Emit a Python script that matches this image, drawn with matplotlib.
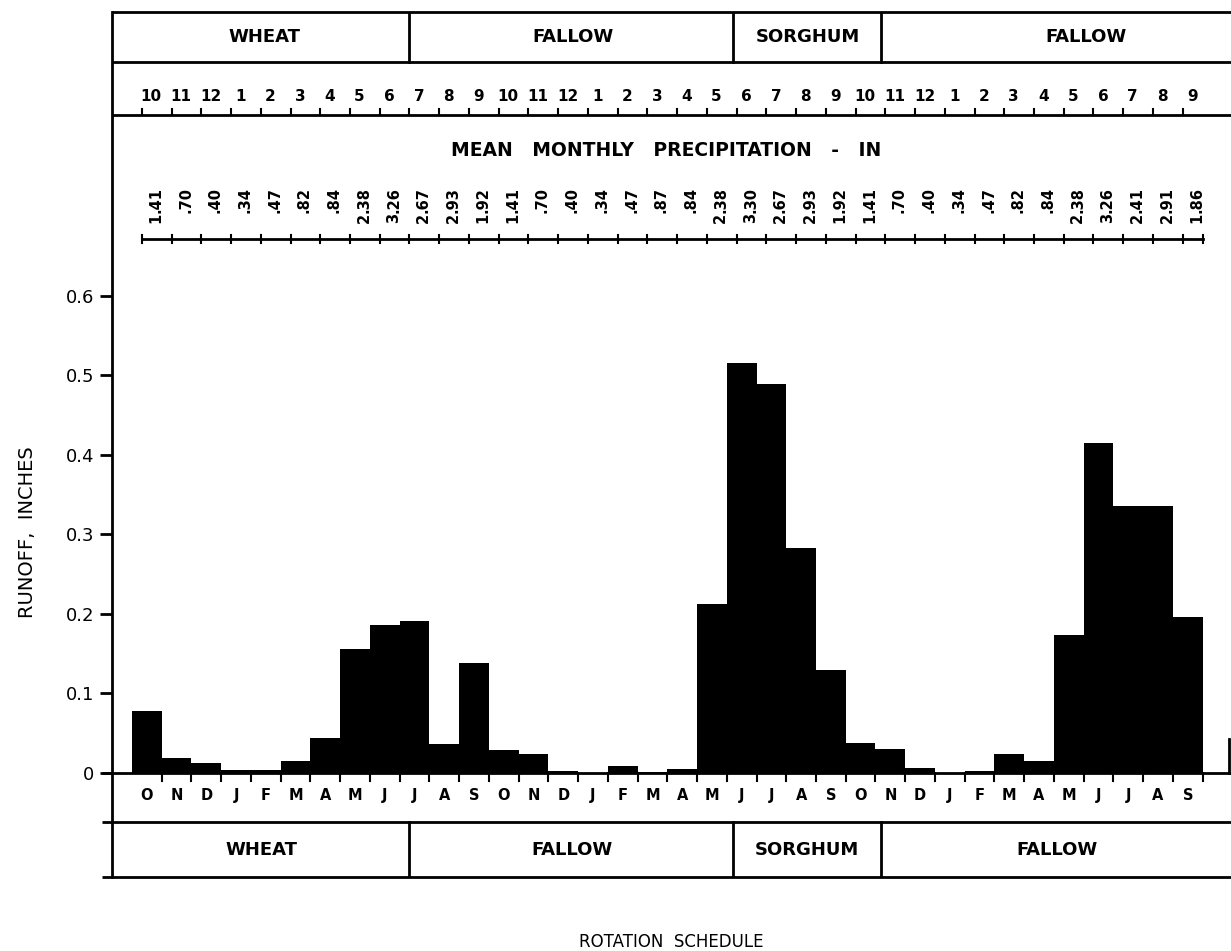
import matplotlib
matplotlib.use("Agg")
import matplotlib.pyplot as plt
import numpy as np

# Three rotation years, October through September
month_letters = list("ONDJFMAMJJAS") * 3
month_numbers = [10, 11, 12, 1, 2, 3, 4, 5, 6, 7, 8, 9] * 3

# Mean monthly runoff, inches
runoff = [0.078, 0.018, 0.012, 0.003, 0.003, 0.015, 0.044, 0.156, 0.186, 0.191, 0.036, 0.138,
          0.029, 0.023, 0.002, 0.000, 0.008, 0.001, 0.005, 0.212, 0.516, 0.489, 0.283, 0.129,
          0.037, 0.030, 0.006, 0.000, 0.002, 0.023, 0.015, 0.173, 0.415, 0.335, 0.335, 0.196]

# Mean monthly precipitation, inches
precip = [1.41, 0.70, 0.40, 0.34, 0.47, 0.82, 0.84, 2.38, 3.26, 2.67, 2.93, 1.92,
          1.41, 0.70, 0.40, 0.34, 0.47, 0.87, 0.84, 2.38, 3.30, 2.67, 2.93, 1.92,
          1.41, 0.70, 0.40, 0.34, 0.47, 0.82, 0.84, 2.38, 3.26, 2.41, 2.91, 1.86]

# Rotation schedule: crop names and the month positions where the crop changes
crop_names = ["WHEAT", "FALLOW", "SORGHUM", "FALLOW"]
crop_changes = [9.32, 20.2, 25.2]
top_label_x = [4.47, 14.83, 22.73, 32.08]
bottom_label_x = [4.37, 14.8, 22.7, 31.1]

FONT = "DejaVu Sans"
LW = 2.0

# vertical layout, in runoff units (the whole diagram shares one axes)
Y_TOP = 0.957
Y_CROP_LINE = 0.894
Y_CROP_TEXT = 0.925
Y_MONTHNUM = 0.851
Y_MONTHNUM_LINE = 0.827
Y_PRECIP_TITLE = 0.783
Y_PRECIP_DEC = 0.704
Y_PRECIP_LINE = 0.671
Y_LETTERS = -0.029
Y_LOW_LINE = -0.062
Y_LOW_TEXT = -0.097
Y_BOTTOM = -0.1312
X_LEFT, X_RIGHT = -0.6725, 36.954

fig = plt.figure(figsize=(12.31, 9.51), dpi=100)
ax = fig.add_axes([112 / 1231, 74 / 951, 1119 / 1231, 865 / 951])
ax.set_xlim(X_LEFT, X_RIGHT)
ax.set_ylim(Y_BOTTOM, Y_TOP)

n = len(runoff)
x = np.arange(n) + 0.5
ax.bar(x, runoff, width=1.0, color="black", linewidth=0)

for side in ["top", "right", "bottom"]:
    ax.spines[side].set_visible(False)
ax.spines["left"].set_linewidth(LW)
ax.set_xticks([])
yt = [0, 0.1, 0.2, 0.3, 0.4, 0.5, 0.6]
ax.set_yticks(yt)
ax.set_yticklabels(["0"] + [f"{v:.1f}" for v in yt[1:]], fontsize=13, family=FONT)
ax.tick_params(axis="y", direction="out", length=9, width=LW, pad=4)

# horizontal rules
for yy in [Y_TOP, Y_CROP_LINE, Y_MONTHNUM_LINE, 0.0, Y_LOW_LINE, Y_BOTTOM]:
    ax.plot([X_LEFT - 0.35 if yy <= 0 else X_LEFT, X_RIGHT], [yy, yy],
            color="black", lw=LW, clip_on=False, solid_capstyle="butt")
ax.plot([X_RIGHT - 0.07] * 2, [0.0, 0.042], color="black", lw=LW)

# crop boxes, top and bottom
for xc in crop_changes:
    ax.plot([xc, xc], [Y_CROP_LINE, Y_TOP], color="black", lw=LW)
    ax.plot([xc, xc], [Y_BOTTOM, Y_LOW_LINE], color="black", lw=LW)
for name, xt, xb in zip(crop_names, top_label_x, bottom_label_x):
    ax.text(xt, Y_CROP_TEXT, name, ha="center", va="center", fontsize=13,
            fontweight="bold", family=FONT)
    ax.text(xb, Y_LOW_TEXT, name, ha="center", va="center", fontsize=13,
            fontweight="bold", family=FONT)

# month numbers row
for xi, m in zip(x, month_numbers):
    ax.text(xi + 0.15, Y_MONTHNUM, str(m), ha="center", va="center", fontsize=11,
            fontweight="bold", family=FONT)
for xi in np.arange(n) + 0.33:
    ax.plot([xi, xi], [Y_MONTHNUM_LINE, Y_MONTHNUM_LINE + 0.008], color="black", lw=1.5)

# precipitation scale
ax.text(17.95, Y_PRECIP_TITLE, "MEAN   MONTHLY   PRECIPITATION   -   IN", ha="center",
        va="center", fontsize=13.5, fontweight="bold", family=FONT)
ax.plot([0.33, 36.0], [Y_PRECIP_LINE] * 2, color="black", lw=LW)
for xi in list(np.arange(n) + 0.33) + [36.0]:
    ax.plot([xi, xi], [Y_PRECIP_LINE - 0.005, Y_PRECIP_LINE + 0.005], color="black", lw=1.5)
for xi, p in zip(x, precip):
    whole, frac = f"{p:.2f}".split(".")
    ax.text(xi + 0.3, Y_PRECIP_DEC, "." + frac, rotation=90, rotation_mode="anchor",
            ha="left", va="center", fontsize=10.5, fontweight="bold", family=FONT)
    if whole != "0":
        ax.text(xi + 0.3, Y_PRECIP_DEC, whole, rotation=90, rotation_mode="anchor",
                ha="right", va="center", fontsize=10.5, fontweight="bold", family=FONT)

# month letters under the bars
for xi, m in zip(x, month_letters):
    ax.text(xi, Y_LETTERS, m, ha="center", va="center", fontsize=10.5,
            fontweight="bold", family=FONT)
for xi in range(1, n + 1):
    ax.plot([xi, xi], [0.0, -0.01], color="black", lw=1.5)

fig.text(28 / 1231, 1 - 532 / 951, "RUNOFF,  INCHES", rotation=90, ha="center",
         va="center", fontsize=14, family=FONT)
fig.text(671 / 1231, 1 - 942 / 951, "ROTATION  SCHEDULE", ha="center", va="center",
         fontsize=12, family=FONT)

fig.savefig("out.png", dpi=100, facecolor="white")
